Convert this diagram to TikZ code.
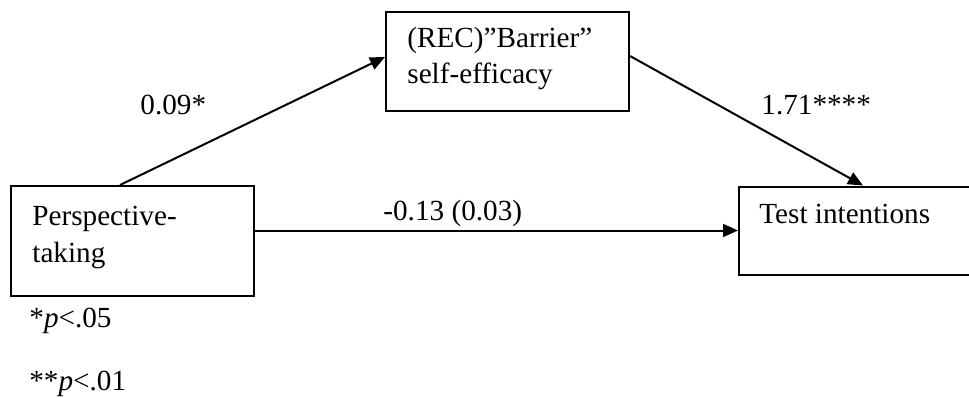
\documentclass[tikz,border=0pt]{standalone}
\usepackage{fontspec}
\setmainfont{Liberation Serif}
\usetikzlibrary{arrows.meta}
\begin{document}
\begin{tikzpicture}[x=0.5pt,y=-0.5pt,
  box/.style={draw,line width=1pt,rectangle,inner sep=0pt},
  txt/.style={inner sep=0pt,anchor=base west,font=\fontsize{14.6}{17}\selectfont},
  conn/.style={line width=1pt,-{Triangle[length=7.5pt,width=6.5pt]}}]
\useasboundingbox (0,0) rectangle (969,397);
% boxes
\node[box,minimum width=121.5pt,minimum height=49.5pt] (tb) at (507.5,61.5) {};
\node[box,minimum width=121.5pt,minimum height=55pt] (lb) at (132.5,241) {};
\node[box,minimum width=121.5pt,minimum height=44pt] (rb) at (860.5,230.5) {};
% box texts
\node[txt] (t1a) at (407,47) {(REC)”Barrier”};
\node[txt] (t1b) at (407,83) {self-efficacy};
\node[txt] (t2a) at (32,225) {Perspective-};
\node[txt] (t2b) at (32,262) {taking};
\node[txt] (t3) at (759,223) {Test intentions};
% connectors
\draw[conn] ([xshift=55pt]lb.north west) -- ([yshift=2.25pt]tb.west);
\draw[conn] ([yshift=2.75pt]tb.east) -- ([xshift=1.25pt]rb.north);
\draw[conn] (lb.east |- rb.west) -- (rb.west);
% labels
\node[txt] (l1) at (140,114) {0.09*};
\node[txt] (l2) at (761,114) {1.71****};
\node[txt] (l3) at (383,220) {-0.13 (0.03)};
% notes
\node[txt] (n1) at (29,327) {*\textit{p}<.05};
\node[txt] (n2) at (29,390) {**\textit{p}<.01};
\end{tikzpicture}
\end{document}
